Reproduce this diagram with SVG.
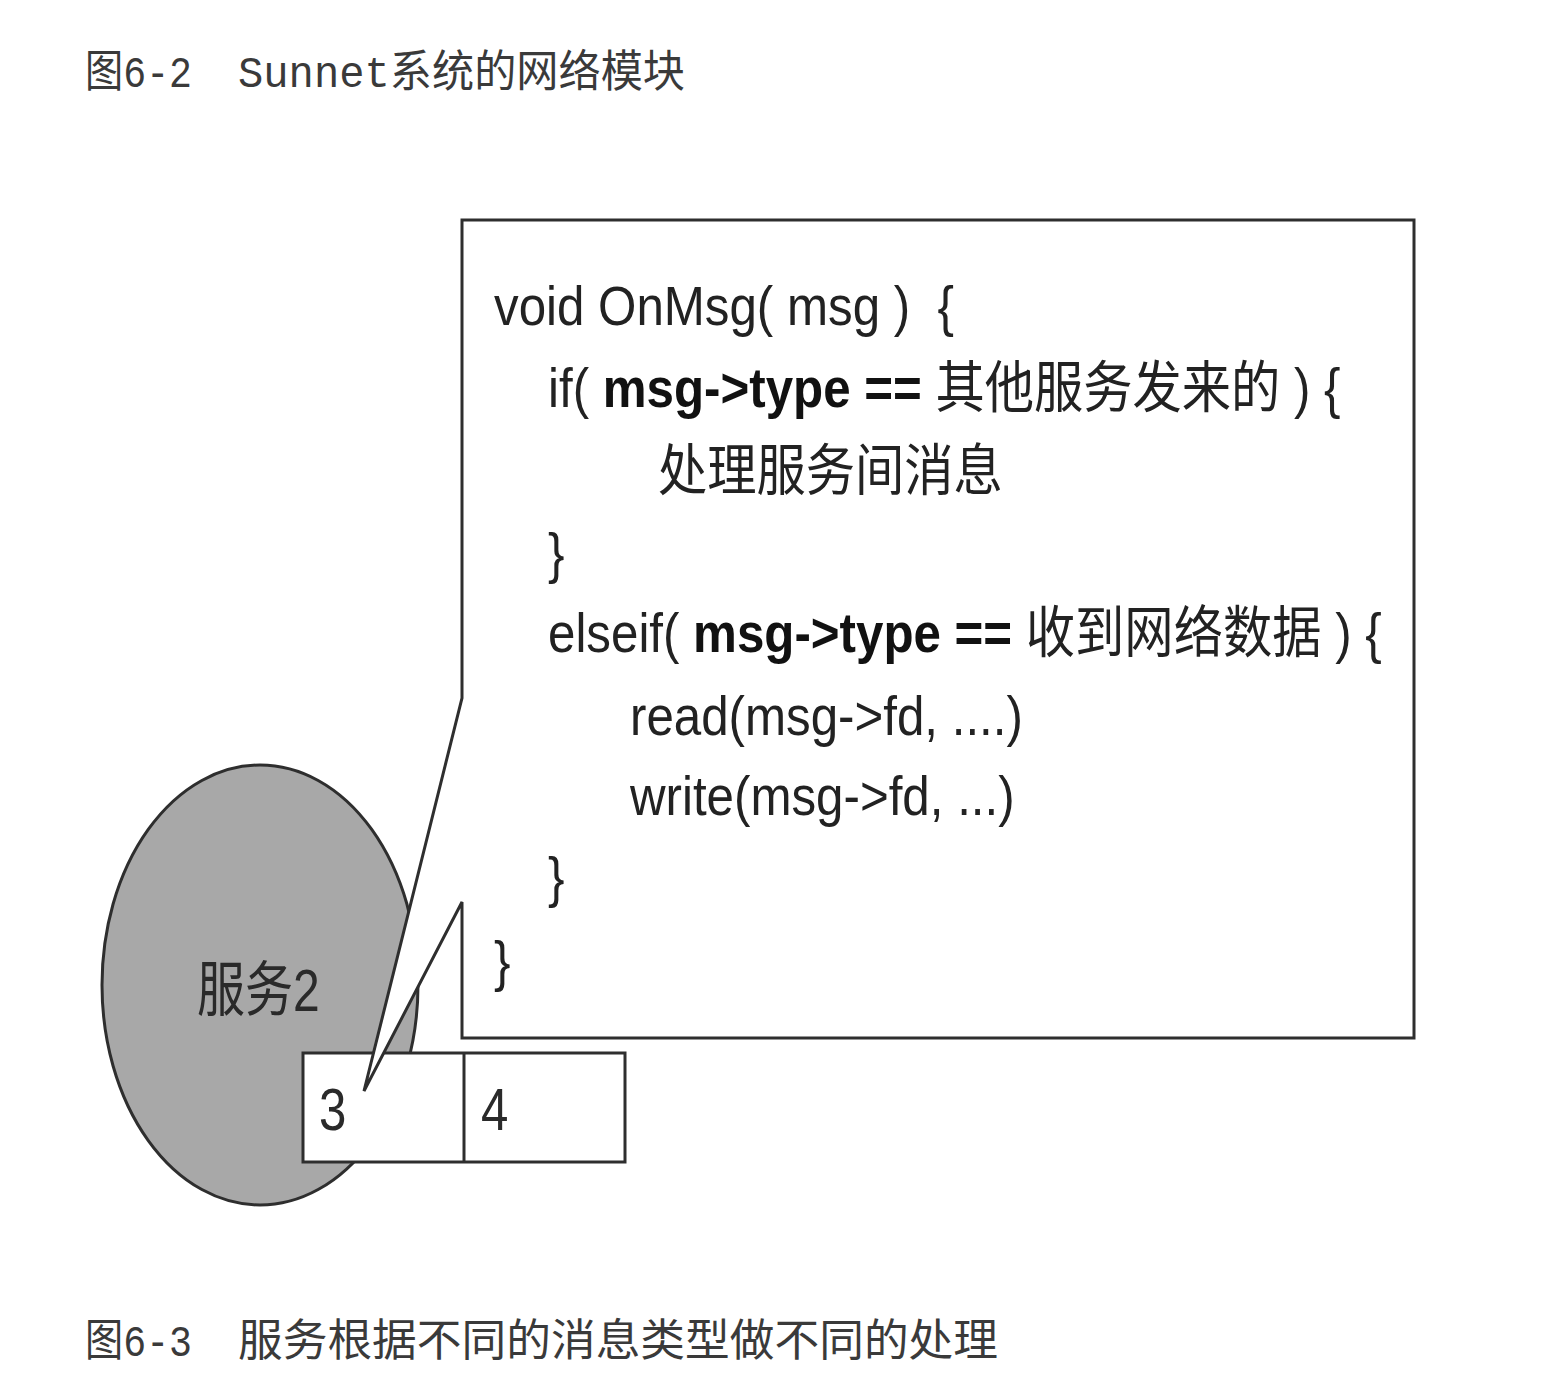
<svg xmlns="http://www.w3.org/2000/svg" width="1562" height="1388" viewBox="0 0 1562 1388">
<style>
.cap{font-family:"Liberation Mono","Noto Sans CJK SC",monospace;font-size:44px;fill:#3a3a3a}
.code{font-family:"Liberation Sans","Noto Sans CJK SC",sans-serif;font-size:56px;fill:#222}
.b{font-weight:bold;fill:#111}
.shape{stroke:#2e2e2e;stroke-width:3;stroke-linejoin:miter}
.lbl{font-family:"Liberation Sans","Noto Sans CJK SC",sans-serif;fill:#2a2a2a}
</style>
<rect width="1562" height="1388" fill="#ffffff"/>
<g id="caption-top">
<text class="cap" x="85" y="87" textLength="107" lengthAdjust="spacingAndGlyphs">图6-2</text>
<text class="cap" x="238" y="87" textLength="447" lengthAdjust="spacingAndGlyphs">Sunnet系统的网络模块</text>
</g>
<g id="service2">
<ellipse class="shape" cx="260" cy="985" rx="158" ry="220" fill="#a8a8a8"/>
<text class="lbl" font-size="60" transform="translate(197,1011) scale(0.8,1)">服务2</text>
</g>
<g id="slots">
<rect class="shape" x="303" y="1053" width="322" height="109" fill="#ffffff"/>
<line class="shape" x1="464" y1="1053" x2="464" y2="1162"/>
<text class="lbl" font-size="60" transform="translate(319,1130) scale(0.82,1)">3</text>
<text class="lbl" font-size="60" transform="translate(481,1130) scale(0.82,1)">4</text>
</g>
<g id="callout">
<path class="shape" fill="#ffffff" d="M462,698 L462,220 L1414,220 L1414,1038 L462,1038 L462,902 L364,1091 Z"/>
</g>
<g id="code">
<text class="code" transform="translate(494,325) scale(0.88,1)">void OnMsg( msg )&#160; {</text>
<text class="code" transform="translate(548,407) scale(0.88,1)">if( <tspan class="b">msg-&gt;type ==</tspan> 其他服务发来的 ) {</text>
<text class="code" transform="translate(658,490) scale(0.88,1)">处理服务间消息</text>
<text class="code" transform="translate(548,572) scale(0.88,1)">}</text>
<text class="code" transform="translate(548,652) scale(0.88,1)">elseif( <tspan class="b">msg-&gt;type ==</tspan> 收到网络数据 ) {</text>
<text class="code" transform="translate(630,735) scale(0.88,1)">read(msg-&gt;fd, ....)</text>
<text class="code" transform="translate(630,815) scale(0.88,1)">write(msg-&gt;fd, ...)</text>
<text class="code" transform="translate(548,896) scale(0.88,1)">}</text>
<text class="code" transform="translate(494,980) scale(0.88,1)">}</text>
</g>
<g id="caption-bottom">
<text class="cap" x="85" y="1356" textLength="107" lengthAdjust="spacingAndGlyphs">图6-3</text>
<text class="cap" x="238" y="1356" textLength="760" lengthAdjust="spacingAndGlyphs">服务根据不同的消息类型做不同的处理</text>
</g>
</svg>
